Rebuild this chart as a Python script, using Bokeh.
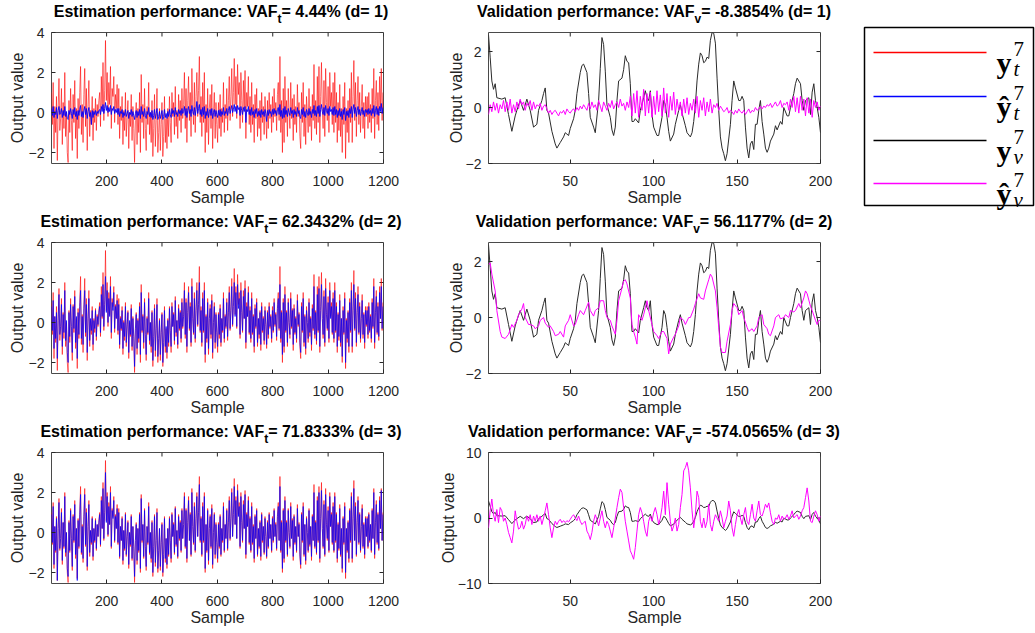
import numpy as np
from bokeh.plotting import figure
from bokeh.layouts import row, column
from bokeh.models import Range1d, FixedTicker, Label, BoxAnnotation, Div
from bokeh.embed import file_html
from bokeh.resources import INLINE

# ---------------- data ----------------
# estimation data: values read every 3rd sample
est_samples = list(range(1, 1201, 3))

y_t = [
    1.0, -0.6, 1.5, -1.8, 0.3, -1.0, 0.8, -2.4, 0.2, 1.7, -0.9, -0.3, 1.2, -1.6, 0.5, -0.8, 2.0, -1.2, 0.0, -2.0,
    -2.5, 0.6, -1.0, 1.2, -0.4, -1.9, 0.9, -0.5, 1.6, -1.3, 0.2, -2.3, 0.7, -0.8, 1.0, 2.3, -1.1, 0.4, -1.5, 0.9,
    2.2, -0.7, 1.2, -1.9, 0.3, 1.6, -1.2, 0.1, -0.6, 0.8, -1.4, 0.2, -0.5, 0.7, -0.9, 0.4, -0.2, 0.6, 1.0, -0.7,
    1.8, 0.2, 2.5, -0.4, 1.1, 3.6, 0.6, 2.0, -0.2, 1.5, 0.4, 2.3, -0.8, 1.2, 0.8, 1.8, -0.5, 0.9, 0.2, 1.4,
    -0.6, 1.2, -1.3, 0.3, -0.4, 0.8, -1.6, 0.1, -0.9, 1.0, -1.2, -0.2, 0.6, -1.8, 0.0, -0.7, 0.9, -1.4, 0.3, -0.8,
    -2.5, -0.4, 0.5, -1.6, 0.2, -1.0, 1.0, -2.0, 1.9, -0.5, 0.4, -1.3, 1.2, -0.8, -1.9, 0.3, -0.6, 1.5, -1.1, 0.0,
    -1.5, 0.6, -2.2, -0.8, 0.9, -1.7, -0.4, 1.2, -2.0, -1.0, 0.2, -1.9, -0.6, 0.5, -2.2, -1.2, 0.8, -1.5, -0.3, -1.8,
    0.2, -1.2, 0.8, -0.5, -1.5, 1.0, -0.2, 0.5, -1.1, 1.3, -0.7, 0.1, -1.3, 0.9, -0.4, 0.6, -1.0, 1.2, -0.3, 0.4,
    2.0, -0.8, 1.2, -1.5, 0.6, 1.8, -0.4, 1.0, -1.2, 2.2, 0.3, -0.6, 1.5, -1.0, 0.8, 2.0, -0.2, 1.1, 2.8, -0.5,
    0.8, -1.2, 1.5, -0.5, 2.0, -2.0, 0.4, -1.0, 1.2, -1.6, 0.2, 0.9, -0.8, 1.4, -1.8, 0.0, 1.0, -1.3, 0.5, -0.6,
    -1.5, 0.5, -0.8, 0.9, -1.2, 0.2, -0.5, 1.5, -1.0, 0.4, -0.3, 1.2, -0.9, 0.6, 1.8, -0.4, 0.8, 2.2, -0.2, 1.0,
    2.7, 0.4, 1.8, -0.3, 2.4, 0.9, 1.5, -0.8, 2.0, 0.6, -0.5, 1.6, 0.2, 2.1, -1.3, 1.0, 0.3, 1.8, -0.6, 0.8,
    -1.0, 1.5, -0.6, 0.4, -1.5, 0.9, -0.3, 1.2, -1.2, 0.2, -0.8, 0.6, -1.4, 1.0, -0.5, 0.3, -1.1, 0.8, -0.2, -1.3,
    0.6, -0.8, 1.0, -0.3, 0.4, -1.0, 0.8, -0.5, 1.2, -0.2, 0.5, -0.9, 0.9, 1.5, -0.4, 2.8, -1.0, 0.6, -2.0, 1.2,
    -1.5, 1.8, -0.5, 0.6, -1.2, 1.2, 0.0, -0.8, 1.5, -0.3, 0.7, -1.4, 0.9, -0.6, 0.3, -1.0, 1.4, -0.2, 0.5, -1.2,
    -1.8, 1.0, -0.5, 1.5, -1.2, 0.4, -1.6, 0.8, 0.0, -1.0, 1.2, -0.7, 0.3, -1.4, 0.9, -0.4, 2.4, -0.8, 0.6, -1.1,
    1.8, -0.5, 2.3, -1.5, 0.8, 2.5, 0.2, -0.8, 1.6, -1.2, 2.2, 0.5, -0.4, 1.3, -1.0, 2.0, 0.3, 1.0, -0.6, 1.5,
    -1.0, 2.0, -0.5, 1.0, -1.5, 0.5, -0.9, 1.4, -1.2, 0.2, -2.0, 0.8, -0.6, 1.5, -2.3, 0.2, -1.0, 0.6, -1.5, 1.2,
    -0.5, 2.0, -1.5, 0.8, 2.6, -0.4, 1.5, -1.2, 0.6, 1.8, -0.6, 1.0, -1.0, 0.3, 1.4, -0.8, 0.5, -1.3, 0.8, -0.2,
    0.8, -0.8, 1.0, -0.5, 0.4, -1.0, 1.2, -0.3, 2.2, -1.3, 0.6, 1.6, -0.6, 1.0, -0.9, 1.8, 0.2, 2.2, -0.4, 1.0,
]

yhat_t_d1 = [
    0.2, -0.15, 0.3, -0.25, 0.05, -0.1, 0.25, -0.3, 0.1, 0.3, -0.1, 0.0, 0.2, -0.25, 0.1, -0.15, 0.3, -0.2, 0.05, -0.3,
    -0.35, 0.1, -0.1, 0.2, -0.05, -0.3, 0.15, -0.1, 0.25, -0.2, 0.05, -0.35, 0.1, -0.15, 0.15, 0.35, -0.2, 0.05, -0.25, 0.1,
    0.3, -0.1, 0.2, -0.3, 0.05, 0.25, -0.2, 0.0, -0.6, 0.1, -0.25, 0.05, -0.1, 0.1, -0.15, 0.05, -0.05, 0.1, 0.15, -0.1,
    0.3, 0.05, 0.4, -0.05, 0.2, 0.5, 0.1, 0.35, 0.0, 0.25, 0.05, 0.35, -0.1, 0.2, 0.1, 0.3, -0.05, 0.15, 0.0, 0.2,
    -0.1, 0.2, -0.2, 0.05, -0.05, 0.15, -0.25, 0.0, -0.15, 0.15, -0.2, -0.05, 0.1, -0.3, 0.0, -0.1, 0.15, -0.2, 0.05, -0.15,
    -0.35, -0.05, 0.1, -0.25, 0.05, -0.15, 0.15, -0.3, 0.3, -0.1, 0.05, -0.2, 0.2, -0.15, -0.3, 0.05, -0.1, 0.25, -0.2, 0.0,
    -0.25, 0.1, -0.35, -0.15, 0.15, -0.3, -0.05, 0.2, -0.35, -0.2, 0.05, -0.3, -0.1, 0.1, -0.35, -0.2, 0.15, -0.25, -0.05, -0.3,
    0.05, -0.2, 0.15, -0.1, -0.25, 0.2, -0.05, 0.1, -0.2, 0.25, -0.1, 0.0, -0.2, 0.15, -0.05, 0.1, -0.15, 0.2, -0.05, 0.05,
    0.3, -0.15, 0.2, -0.25, 0.1, 0.3, -0.05, 0.15, -0.2, 0.35, 0.05, -0.1, 0.25, -0.15, 0.15, 0.55, -0.05, 0.2, 0.4, -0.1,
    0.15, -0.2, 0.25, -0.1, 0.3, -0.3, 0.05, -0.15, 0.2, -0.25, 0.05, 0.15, -0.15, 0.2, -0.3, 0.0, 0.15, -0.2, 0.1, -0.1,
    -0.25, 0.1, -0.15, 0.15, -0.2, 0.05, -0.1, 0.25, -0.15, 0.05, -0.05, 0.2, -0.15, 0.1, 0.3, -0.05, 0.15, 0.35, 0.0, 0.15,
    0.4, 0.05, 0.3, -0.05, 0.35, 0.15, 0.25, -0.15, 0.3, 0.1, -0.1, 0.25, 0.05, 0.3, -0.5, 0.15, 0.05, 0.3, -0.1, 0.15,
    -0.15, 0.25, -0.1, 0.05, -0.25, 0.15, -0.05, 0.2, -0.2, 0.05, -0.15, 0.1, -0.25, 0.15, -0.1, 0.05, -0.2, 0.15, -0.05, -0.45,
    0.1, -0.15, 0.15, -0.05, 0.05, -0.2, 0.15, -0.1, 0.2, -0.05, 0.1, -0.15, 0.15, 0.25, -0.1, 0.4, -0.2, 0.1, -0.3, 0.2,
    -0.25, 0.3, -0.1, 0.1, -0.2, 0.2, 0.0, -0.15, 0.25, -0.05, 0.1, -0.25, 0.15, -0.1, 0.05, -0.2, 0.25, -0.05, 0.1, -0.2,
    -0.3, 0.15, -0.1, 0.25, -0.2, 0.05, -0.25, 0.15, 0.0, -0.15, 0.2, -0.1, 0.05, -0.25, 0.15, -0.05, 0.35, -0.15, 0.1, -0.2,
    0.3, -0.05, 0.35, -0.2, 0.15, 0.4, 0.05, -0.1, 0.25, -0.15, 0.35, 0.1, -0.05, 0.2, -0.15, 0.3, 0.05, 0.15, -0.1, 0.25,
    -0.15, 0.3, -0.1, 0.15, -0.25, 0.1, -0.15, 0.2, -0.2, 0.05, -0.35, 0.15, -0.1, 0.25, -0.4, 0.05, -0.15, 0.1, -0.25, 0.2,
    -0.05, 0.3, -0.25, 0.15, 0.4, -0.05, 0.25, -0.2, 0.1, 0.3, -0.1, 0.15, -0.15, 0.05, 0.25, -0.1, 0.1, -0.2, 0.15, 0.0,
    0.15, -0.1, 0.2, -0.05, 0.1, -0.15, 0.2, -0.05, 0.35, -0.2, 0.1, 0.3, -0.1, 0.2, -0.15, 0.3, 0.05, 0.45, -0.05, 0.25,
]

yhat_t_d2 = [
    0.8, -0.4, 1.1, -1.3, 0.3, -0.8, 0.5, -1.8, 0.1, 1.4, -0.6, -0.2, 0.9, -1.2, 0.4, -0.5, 1.6, -0.9, 0.1, -1.5,
    -2.0, 0.5, -0.7, 0.9, -0.2, -1.5, 0.8, -0.3, 1.3, -1.0, 0.3, -1.8, 0.5, -0.6, 0.8, 1.6, -0.8, 0.3, -1.1, 0.7,
    1.6, -0.5, 0.9, -1.5, 0.2, 1.2, -0.9, 0.2, -0.4, 0.6, -1.1, 0.1, -0.3, 0.6, -0.7, 0.3, -0.1, 0.5, 0.8, -0.5,
    1.4, 0.3, 1.9, -0.2, 0.9, 2.3, 0.5, 1.6, 0.0, 1.2, 0.3, 1.8, -0.5, 1.0, 0.6, 1.5, -0.3, 0.8, 0.2, 1.1,
    -0.4, 0.9, -1.1, 0.2, -0.3, 0.6, -1.3, 0.0, -0.7, 0.8, -1.0, -0.1, 0.5, -1.5, 0.1, -0.6, 0.7, -1.2, 0.2, -0.7,
    -2.2, -0.3, 0.4, -1.3, 0.1, -0.8, 0.8, -1.6, 1.5, -0.4, 0.3, -1.0, 1.0, -0.6, -1.6, 0.2, -0.5, 1.2, -0.9, 0.0,
    -1.2, 0.5, -1.9, -0.7, 0.7, -1.4, -0.3, 0.9, -1.7, -0.8, 0.1, -1.6, -0.5, 0.4, -2.0, -1.0, 0.6, -1.2, -0.2, -1.5,
    0.1, -1.0, 0.7, -0.4, -1.2, 0.8, -0.2, 0.4, -0.9, 1.1, -0.5, 0.1, -1.1, 0.7, -0.3, 0.5, -0.8, 1.0, -0.2, 0.3,
    1.6, -0.6, 1.0, -1.2, 0.5, 1.5, -0.3, 0.8, -1.0, 1.8, 0.2, -0.5, 1.2, -0.8, 0.6, 1.6, -0.1, 0.9, 2.0, -0.4,
    0.6, -1.0, 1.2, -0.4, 1.6, -1.6, 0.3, -0.8, 1.0, -1.3, 0.2, 0.7, -0.6, 1.1, -1.5, 0.0, 0.8, -1.0, 0.4, -0.5,
    -1.2, 0.4, -0.6, 0.7, -1.0, 0.2, -0.4, 1.2, -0.8, 0.3, -0.2, 1.0, -0.7, 0.5, 1.5, -0.3, 0.6, 1.8, -0.1, 0.8,
    2.0, 0.3, 1.5, -0.2, 1.9, 0.7, 1.2, -0.6, 1.6, 0.5, -0.4, 1.3, 0.2, 1.7, -1.0, 0.8, 0.3, 1.5, -0.5, 0.6,
    -0.8, 1.2, -0.5, 0.3, -1.2, 0.7, -0.2, 1.0, -1.0, 0.2, -0.6, 0.5, -1.1, 0.8, -0.4, 0.2, -0.9, 0.6, -0.1, -1.1,
    0.5, -0.6, 0.8, -0.2, 0.3, -0.8, 0.6, -0.4, 1.0, -0.1, 0.4, -0.7, 0.7, 1.2, -0.3, 1.9, -0.8, 0.5, -1.6, 1.0,
    -1.2, 1.4, -0.4, 0.5, -1.0, 1.0, 0.0, -0.6, 1.2, -0.2, 0.6, -1.1, 0.7, -0.5, 0.2, -0.8, 1.1, -0.1, 0.4, -1.0,
    -1.5, 0.8, -0.4, 1.2, -1.0, 0.3, -1.3, 0.6, 0.0, -0.8, 1.0, -0.5, 0.2, -1.1, 0.7, -0.3, 1.8, -0.6, 0.5, -0.9,
    1.4, -0.4, 1.7, -1.2, 0.6, 1.9, 0.2, -0.6, 1.3, -1.0, 1.7, 0.4, -0.3, 1.0, -0.8, 1.6, 0.2, 0.8, -0.5, 1.2,
    -0.8, 1.6, -0.4, 0.8, -1.2, 0.4, -0.7, 1.1, -1.0, 0.2, -1.7, 0.6, -0.5, 1.2, -2.0, 0.1, -0.8, 0.5, -1.2, 1.0,
    -0.4, 1.6, -1.2, 0.6, 1.9, -0.3, 1.2, -1.0, 0.5, 1.4, -0.5, 0.8, -0.8, 0.2, 1.1, -0.6, 0.4, -1.0, 0.6, -0.1,
    0.6, -0.6, 0.8, -0.4, 0.3, -0.8, 1.0, -0.2, 1.8, -1.0, 0.5, 1.3, -0.5, 0.8, -0.7, 1.5, 0.2, 1.8, -0.3, 0.8,
]

yhat_t_d3 = [
    0.9, -0.5, 1.3, -1.6, 0.3, -0.9, 0.7, -2.4, 0.2, 1.5, -0.8, -0.3, 1.0, -1.4, 0.5, -0.7, 1.8, -1.0, 0.0, -1.8,
    -2.2, 0.5, -0.9, 1.1, -0.3, -1.7, 0.8, -0.4, 1.4, -1.1, 0.2, -2.4, 0.6, -0.7, 0.9, 1.9, -1.0, 0.3, -1.3, 0.8,
    1.9, -0.6, 1.0, -1.7, 0.3, 1.4, -1.0, 0.1, -0.5, 0.7, -1.2, 0.2, -0.4, 0.6, -0.8, 0.4, -0.2, 0.5, 0.9, -0.6,
    1.6, 0.2, 2.2, -0.3, 1.0, 3.0, 0.5, 1.8, -0.1, 1.3, 0.4, 2.0, -0.7, 1.1, 0.7, 1.6, -0.4, 0.8, 0.2, 1.2,
    -0.5, 1.0, -1.2, 0.3, -0.4, 0.7, -1.4, 0.1, -0.8, 0.9, -1.1, -0.2, 0.5, -1.6, 0.0, -0.6, 0.8, -1.3, 0.3, -0.7,
    -2.2, -0.4, 0.4, -1.4, 0.2, -0.9, 0.9, -1.8, 1.7, -0.4, 0.4, -1.2, 1.1, -0.7, -1.7, 0.3, -0.5, 1.3, -1.0, 0.0,
    -1.3, 0.5, -2.0, -0.7, 0.8, -1.5, -0.4, 1.0, -1.8, -0.9, 0.2, -1.7, -0.5, 0.4, -2.0, -1.1, 0.7, -1.3, -0.3, -1.6,
    0.2, -1.1, 0.7, -0.4, -1.3, 0.9, -0.2, 0.4, -1.0, 1.2, -0.6, 0.1, -1.2, 0.8, -0.3, 0.5, -0.9, 1.1, -0.3, 0.4,
    1.8, -0.7, 1.1, -1.3, 0.5, 1.6, -0.4, 0.9, -1.1, 2.0, 0.3, -0.5, 1.3, -0.9, 0.7, 1.8, -0.2, 1.0, 2.4, -0.4,
    0.7, -1.1, 1.3, -0.4, 1.8, -1.8, 0.4, -0.9, 1.1, -1.4, 0.2, 0.8, -0.7, 1.2, -1.6, 0.0, 0.9, -1.1, 0.4, -0.5,
    -1.3, 0.4, -0.7, 0.8, -1.1, 0.2, -0.4, 1.3, -0.9, 0.4, -0.3, 1.1, -0.8, 0.5, 1.6, -0.3, 0.7, 2.0, -0.2, 0.9,
    2.3, 0.4, 1.6, -0.3, 2.1, 0.8, 1.3, -0.7, 1.8, 0.5, -0.4, 1.4, 0.2, 1.9, -1.1, 0.9, 0.3, 1.6, -0.5, 0.7,
    -0.9, 1.3, -0.5, 0.3, -1.3, 0.8, -0.3, 1.1, -1.1, 0.2, -0.7, 0.5, -1.2, 0.9, -0.4, 0.3, -1.0, 0.7, -0.2, -1.2,
    0.5, -0.7, 0.9, -0.3, 0.4, -0.9, 0.7, -0.4, 1.1, -0.2, 0.4, -0.8, 0.8, 1.3, -0.4, 2.3, -0.9, 0.5, -1.8, 1.1,
    -1.3, 1.6, -0.4, 0.5, -1.1, 1.1, 0.0, -0.7, 1.3, -0.3, 0.6, -1.2, 0.8, -0.5, 0.3, -0.9, 1.2, -0.2, 0.4, -1.1,
    -1.6, 0.9, -0.4, 1.3, -1.1, 0.4, -1.4, 0.7, 0.0, -0.9, 1.1, -0.6, 0.3, -1.2, 0.8, -0.4, 2.0, -0.7, 0.5, -1.0,
    1.6, -0.4, 2.0, -1.3, 0.7, 2.1, 0.2, -0.7, 1.4, -1.1, 1.9, 0.4, -0.3, 1.1, -0.9, 1.8, 0.3, 0.9, -0.5, 1.3,
    -0.9, 1.8, -0.4, 0.9, -1.3, 0.4, -0.8, 1.2, -1.1, 0.2, -1.8, 0.7, -0.5, 1.3, -2.0, 0.2, -0.9, 0.5, -1.3, 1.1,
    -0.4, 1.8, -1.3, 0.7, 2.2, -0.4, 1.3, -1.1, 0.5, 1.6, -0.5, 0.9, -0.9, 0.3, 1.2, -0.7, 0.4, -1.1, 0.7, -0.2,
    0.7, -0.7, 0.9, -0.4, 0.4, -0.9, 1.1, -0.3, 2.0, -1.1, 0.5, 1.4, -0.5, 0.9, -0.8, 1.6, 0.2, 2.1, -0.4, 0.9,
]

# validation data
val_samples = list(range(1, 201))

# measured validation output (sample, value)
y_v_read = [
    (1, 2.6), (2, 1.8), (3, 0.95), (4, 0.65), (5, 0.85), (6, 0.35), (9, 0.3), (11, 0.35),
    (13, -0.25), (15, -0.85), (17, -0.3), (18, -0.1), (20, 0.25), (22, -0.1), (24, 0.3),
    (26, -0.1), (28, -0.7), (30, -0.6), (31, -0.1), (33, 0.25), (34, 0.5), (35, 0.7),
    (36, -0.1), (37, -0.2), (39, -0.85), (41, -1.3), (42, -1.45), (44, -1.25), (46, -1.05),
    (47, -0.9), (48, -0.95), (49, -1.0), (50, -0.75), (52, -0.4), (53, -0.1), (54, 0.5),
    (56, 1.25), (57, 1.5), (58, 1.55), (60, 1.25), (61, 0.5), (62, -0.35), (64, -0.7),
    (65, -0.9), (67, 0.25), (68, 1.4), (69, 2.5), (70, 2.25), (71, 1.3), (72, 0.1),
    (74, -0.35), (75, -0.8), (76, -1.0), (77, -0.7), (78, 0.25), (79, 0.95), (81, 1.05),
    (82, 1.35), (83, 1.85), (84, 1.65), (85, 1.6), (86, 0.85), (87, -0.5), (88, -0.5),
    (89, -0.4), (91, -0.55), (92, -0.1), (94, 0.35), (95, 0.6), (96, 0.35), (97, 0.25),
    (98, 0.6), (99, -0.25), (100, -0.7), (102, -1.0), (103, -1.0), (105, -0.35), (106, 0.25),
    (107, 0.1), (108, -0.35), (109, -0.85), (110, -1.2), (112, -0.95), (113, -0.6),
    (115, -0.1), (116, 0.1), (117, -0.2), (119, -0.65), (120, -0.9), (122, -1.05),
    (123, -0.9), (124, -0.5), (125, 0.1), (126, 0.95), (127, 1.55), (128, 1.95), (129, 1.85),
    (130, 1.6), (131, 1.65), (132, 1.8), (133, 1.75), (134, 2.4), (135, 2.68), (136, 2.65),
    (137, 2.3), (138, 1.05), (139, -0.1), (140, -1.05), (141, -1.45), (142, -1.65),
    (143, -1.9), (144, -1.65), (146, -0.6), (147, 0.25), (148, 0.95), (149, 0.7), (151, 0.25),
    (152, 0.25), (153, 0.4), (154, 0.25), (155, -0.7), (156, -1.45), (157, -1.8), (158, -1.3),
    (159, -1.2), (160, -1.5), (161, -0.6), (162, -0.6), (163, -0.1), (164, 0.25), (165, -0.5),
    (166, -0.95), (167, -1.45), (168, -1.6), (169, -1.45), (170, -1.2), (172, -0.95),
    (173, -0.65), (174, -0.8), (176, -0.5), (177, -0.6), (178, 0.0), (180, -0.3), (181, -0.3),
    (182, 0.0), (184, 0.5), (185, 0.85), (186, 1.05), (188, 0.85), (189, 0.25), (190, -0.1),
    (191, 0.25), (193, 0.35), (194, -0.25), (195, 0.55), (196, 0.85), (197, 0.25), (198, 0.0),
    (199, -0.35), (200, -0.9),
]

yhat_v_d1 = [
    -0.25, 0.1, -0.15, 0.2, -0.1, 0.15, -0.2, 0.1, -0.05, 0.25,
    -0.15, 0.2, -0.1, 0.3, -0.2, 0.1, -0.15, 0.2, -0.05, 0.3,
    0.1, 0.2, -0.1, 0.15, 0.05, 0.25, -0.1, 0.2, -0.05, 0.1,
    0.05, 0.15, -0.1, 0.05, 0.1, -0.05, -0.2, -0.1, -0.25, -0.15,
    -0.1, -0.2, -0.3, -0.15, -0.2, -0.1, -0.25, -0.05, -0.15, -0.2,
    -0.1, -0.05, -0.15, 0.0, -0.1, 0.05, -0.05, 0.1, 0.0, -0.1,
    0.15, -0.05, 0.2, 0.0, 0.1, -0.1, 0.25, 0.05, -0.15, 0.2,
    0.05, -0.1, 0.15, 0.0, 0.25, -0.05, 0.1, 0.2, 0.0, 0.3,
    0.05, 0.15, -0.1, 0.2, 0.0, 0.4, -0.3, 0.5, -0.2, 0.6,
    -0.35, 0.4, -0.1, 0.65, -0.3, 0.5, -0.2, 0.55, -0.35, 0.4,
    -0.25, 0.6, -0.15, 0.45, -0.3, 0.7, -0.2, 0.5, -0.35, 0.4,
    -0.1, 0.55, -0.25, 0.3, -0.1, 0.2, -0.3, 0.3, -0.2, 0.35,
    -0.25, 0.15, -0.1, 0.3, -0.2, 0.4, -0.35, 0.25, -0.1, 0.35,
    -0.3, 0.2, -0.15, 0.3, -0.2, 0.1, 0.0, 0.15, -0.1, 0.05,
    -0.05, -0.15, -0.1, 0.0, -0.2, -0.1, -0.15, -0.25, -0.1, -0.2,
    -0.05, -0.15, -0.2, -0.1, -0.25, -0.15, -0.05, -0.2, -0.1, -0.15,
    0.0, -0.1, -0.05, 0.05, -0.05, 0.05, 0.0, 0.1, 0.05, 0.15,
    0.0, 0.1, 0.2, 0.05, 0.1, 0.25, 0.0, 0.15, 0.1, 0.2,
    -0.1, 0.3, 0.0, 0.4, -0.15, 0.35, -0.2, 0.4, -0.1, 0.3,
    -0.3, 0.35, -0.2, 0.3, -0.35, 0.25, 0.0, 0.2, -0.1, 0.05,
]

# measured d=2 validation prediction (sample, value)
yhat_v_d2_read = [
    (1, 1.9), (2, 1.95), (3, 1.55), (5, 0.95), (6, 0.25), (8, -0.5), (9, -0.7), (11, -0.75),
    (13, -0.6), (15, -0.25), (16, -0.35), (18, -0.1), (19, 0.1), (21, 0.3), (22, 0.5),
    (23, 0.0), (25, -0.25), (26, -0.25), (28, -0.3), (29, -0.4), (31, -0.3), (32, -0.1),
    (34, 0.0), (35, -0.2), (37, -0.35), (38, -0.3), (40, -0.5), (41, -0.65), (43, -0.6),
    (44, -0.5), (46, -0.7), (47, -0.3), (49, -0.1), (50, 0.1), (52, -0.3), (53, -0.25),
    (55, 0.1), (56, 0.25), (58, 0.1), (59, 0.25), (61, 0.55), (62, 0.25), (64, 0.05),
    (65, 0.25), (67, 0.35), (68, 0.6), (70, 0.6), (71, 0.25), (72, 0.0), (74, -0.1),
    (75, -0.3), (77, -0.6), (78, -0.1), (79, 0.6), (81, 1.05), (82, 1.3), (83, 1.35),
    (84, 1.2), (86, 0.7), (87, -0.25), (88, -0.5), (89, -0.7), (90, -0.95), (91, 0.1),
    (93, -0.1), (94, 0.1), (96, 0.6), (97, 0.25), (99, -0.25), (100, -0.5), (102, -0.65),
    (103, -0.75), (105, -0.5), (106, -0.5), (108, -0.75), (109, -1.3), (110, -0.95),
    (112, -0.7), (113, -0.6), (115, -0.3), (116, 0.0), (118, -0.1), (119, -0.25), (121, 0.0),
    (122, 0.0), (124, 0.3), (125, 0.5), (127, 0.85), (128, 0.7), (130, 0.65), (131, 0.95),
    (133, 1.35), (134, 1.55), (135, 1.45), (137, 0.95), (138, 0.35), (139, -0.35),
    (140, -1.05), (141, -1.25), (143, -1.25), (144, -0.85), (146, -0.25), (147, 0.25),
    (148, 0.5), (150, 0.35), (151, 0.1), (153, 0.25), (154, 0.0), (156, -0.35), (157, -0.5),
    (159, -0.4), (160, -0.5), (162, -0.3), (163, 0.0), (165, 0.1), (166, -0.25), (168, -0.4),
    (169, -0.6), (170, -0.65), (172, -0.3), (173, 0.0), (175, 0.1), (176, -0.05), (178, 0.0),
    (179, 0.1), (181, 0.0), (182, 0.25), (184, 0.2), (185, 0.25), (187, 0.5), (188, 0.35),
    (190, 0.7), (191, 0.95), (192, 0.85), (194, 0.4), (195, 0.25), (197, -0.1), (198, -0.25),
    (199, -0.1), (200, -0.1),
]

yhat_v_d3 = [
    -1.5, 1.1, 2.9, 0.5, -0.5, 1.3, -0.7, 1.6, 1.1, -0.5,
    0.0, -1.0, -2.2, -3.0, -3.8, -2.0, 1.1, -0.5, -1.7, -1.5,
    -0.5, -1.7, -1.0, 0.3, -0.5, 0.5, -1.0, 0.3, -0.5, 0.5,
    -0.5, 0.3, -1.0, 0.0, 1.1, 2.3, 0.5, -1.5, -3.0, -1.5,
    -0.5, -1.0, -0.5, -0.2, -0.7, -0.4, -0.7, -0.4, -0.6, -0.2,
    0.2, 0.5, 0.0, -0.4, 0.3, -0.5, -1.0, -0.7, -0.5, -2.0,
    -2.5, -3.3, -2.2, -0.5, 0.5, -0.2, -1.2, 0.0, 1.1, -0.5,
    -1.5, -0.5, -1.0, -2.0, -3.0, -1.5, 0.0, 1.6, 3.1, 4.4,
    3.9, 1.6, -0.5, -2.0, -3.5, -5.0, -5.6, -6.3, -4.5, -2.0,
    0.5, 1.6, 0.8, -0.5, -2.0, -2.8, -0.5, 0.3, -0.5, 0.8,
    1.6, 0.5, -1.0, 0.0, 1.6, 4.1, 0.5, 5.4, 2.1, -0.5,
    -2.0, -1.2, 0.0, -2.0, -1.0, 1.6, 3.6, 7.2, 7.7, 8.5,
    7.2, 4.6, 1.1, -1.5, 0.5, 4.1, 3.1, -0.5, -1.5, 0.0,
    -1.5, -0.5, 2.1, -1.0, -2.0, -0.5, 0.5, 0.0, -0.5, 1.1,
    0.0, -1.5, -0.5, 0.3, 2.6, 1.1, -1.5, -2.8, -1.0, 0.5,
    1.3, 0.0, -1.0, 0.5, 1.6, -0.5, -1.0, 0.5, 2.1, 0.0,
    -0.5, 1.1, 2.6, 0.5, 0.3, 1.1, 2.1, 1.6, 2.3, 0.8,
    -0.5, -1.0, 0.0, -0.2, 0.5, -0.5, 0.3, -0.2, 0.0, 0.5,
    -0.2, 0.3, 1.1, 0.0, 0.3, 0.5, -0.2, 0.3, 1.1, 1.6,
    3.1, 4.6, 2.6, -0.5, -0.7, 0.3, 1.1, 0.5, -0.5, 0.3,
]

est_vaf = ["4.44", "62.3432", "71.8333"]
val_vaf = ["-8.3854", "56.1177", "-574.0565"]
orders = [1, 2, 3]
est_xticks = [200, 400, 600, 800, 1000, 1200]
est_yticks = [-2, 0, 2, 4]
val_xticks = [50, 100, 150, 200]
val_yticks = [[-2, 0, 2], [-2, 0, 2], [-10, 0, 10]]
est_xlim = (1, 1200)
val_xlim = (1, 200)
est_ylim = (-2.55, 4)
val_ylims = [(-2, 2.68), (-2, 2.68), (-10, 10)]

yv_s = [a for a, b in y_v_read]
yv_y = [b for a, b in y_v_read]
yd2_s = [a for a, b in yhat_v_d2_read]
yd2_y = [b for a, b in yhat_v_d2_read]
yhat_t = [yhat_t_d1, yhat_t_d2, yhat_t_d3]

# ---------------- styling ----------------
FONT = "Liberation Sans"
TXT = "#262626"
FRAME_W, FRAME_H = 332, 131
TITLE_H = 24
TOP_B = 8
PANEL_H = [186, 186, 189]
COL_W = 430


def style_axis(ax, ticks, label, label_standoff, tick_standoff):
    ax.ticker = FixedTicker(ticks=ticks)
    ax.axis_line_color = None
    ax.major_tick_in = 4
    ax.major_tick_out = 0
    ax.major_tick_line_color = TXT
    ax.minor_tick_line_color = None
    ax.major_label_text_font = FONT
    ax.major_label_text_font_size = "14px"
    ax.major_label_text_color = TXT
    ax.major_label_standoff = tick_standoff
    ax.axis_label = label
    ax.axis_label_text_font = FONT
    ax.axis_label_text_font_size = "16px"
    ax.axis_label_text_font_style = "normal"
    ax.axis_label_text_color = TXT
    ax.axis_label_standoff = label_standoff


def make_panel(xlim, ylim, xticks, yticks, height, left_b, right_b, ylab_standoff):
    bottom_b = height - TOP_B - FRAME_H
    p = figure(width=COL_W, height=height, x_range=Range1d(*xlim), y_range=Range1d(*ylim),
               output_backend="svg", toolbar_location=None, title=None,
               min_border_left=left_b, min_border_right=right_b,
               min_border_top=TOP_B, min_border_bottom=bottom_b)
    p.grid.visible = False
    p.outline_line_color = "#4a4a4a"
    p.outline_line_width = 1
    p.background_fill_color = "white"
    p.border_fill_color = "white"
    style_axis(p.xaxis[0], xticks, "Sample", 0, 12)
    style_axis(p.yaxis[0], yticks, "Output value", ylab_standoff, 7)
    # inward tick marks on the top and right edges of the box (MATLAB "box on")
    dx = (xlim[1] - xlim[0]) / FRAME_W
    dy = (ylim[1] - ylim[0]) / FRAME_H
    p.segment(x0=xticks, x1=xticks, y0=[ylim[1]] * len(xticks),
              y1=[ylim[1] - 4 * dy] * len(xticks), line_color=TXT, line_width=1)
    p.segment(x0=[xlim[1]] * len(yticks), x1=[xlim[1] - 4 * dx] * len(yticks),
              y0=yticks, y1=yticks, line_color=TXT, line_width=1)
    return p


def make_title(frame_left, main, sub, rest, shift=0):
    center = frame_left + FRAME_W / 2 + shift
    box_w = 400
    html = (
        f'<div style="margin-left:{center - box_w / 2:.1f}px; width:{box_w}px; '
        f'text-align:center; white-space:nowrap; font-family:\'{FONT}\'; font-weight:bold; '
        f'font-size:16px; line-height:16px; padding-top:3.5px; color:#000;">'
        f'{main}<span style="font-size:12px; position:relative; top:6px;">{sub}</span>{rest}</div>'
    )
    return Div(text=html, width=COL_W, height=TITLE_H, margin=0)


left_col, right_col = [], []
for i in range(3):
    h = PANEL_H[i]
    # estimation panel
    left_col.append(make_title(51, "Estimation performance: VAF", "t",
                               f"= {est_vaf[i]}% (d= {orders[i]})", shift=4))
    pe = make_panel(est_xlim, est_ylim, est_xticks, est_yticks, h, 51, 47, 0)
    pe.line(est_samples[:len(y_t)], y_t, line_color="red", line_alpha=0.6, line_width=1)
    yh = yhat_t[i]
    pe.line(est_samples[:len(yh)], yh, line_color="blue",
            line_alpha=(0.9 if i == 0 else 0.72), line_width=1)
    left_col.append(pe)

    # validation panel
    ylim = val_ylims[i]
    right_col.append(make_title(58, "Validation performance: VAF", "v",
                                f"= {val_vaf[i]}% (d= {orders[i]})"))
    pv = make_panel(val_xlim, ylim, val_xticks, val_yticks[i], h, 58, 40, -2)
    pv.line(yv_s, yv_y, line_color="#2b2b2b", line_width=1)
    if i == 0:
        pv.line(val_samples[:len(yhat_v_d1)], yhat_v_d1, line_color="#ff00ff", line_width=1)
    elif i == 1:
        pv.line(yd2_s, yd2_y, line_color="#ff00ff", line_width=1)
    else:
        pv.line(val_samples[:len(yhat_v_d3)], yhat_v_d3, line_color="#ff00ff", line_width=1)
    right_col.append(pv)

# ---------------- legend panel ----------------
leg_colors = ["red", "blue", "black", "#ff00ff"]
leg_main = ["y", "ŷ", "y", "ŷ"]
leg_sub = ["t", "t", "v", "v"]
leg_rows_px = [52, 96, 140, 183]

lg = figure(width=175, height=633, x_range=Range1d(0, 175), y_range=Range1d(633, 0),
            output_backend="svg", toolbar_location=None, title=None,
            x_axis_type=None, y_axis_type=None, min_border=0)
lg.grid.visible = False
lg.outline_line_color = None
lg.add_layout(BoxAnnotation(left=4, right=173, top=27, bottom=205, fill_alpha=0,
                            line_color="black", line_width=1.5, line_alpha=1))
lg.segment(x0=[13] * 4, x1=[126] * 4, y0=leg_rows_px, y1=leg_rows_px,
           line_color=leg_colors, line_width=1.6)
for k in range(4):
    L = leg_rows_px[k]
    lg.add_layout(Label(x=136, y=L + 10, text=leg_main[k], text_font="Liberation Serif",
                        text_font_style="bold", text_font_size="30px", text_color="black",
                        text_baseline="alphabetic", text_align="left"))
    lg.add_layout(Label(x=153, y=L - 4, text="7", text_font="Liberation Serif",
                        text_font_size="21px", text_color="black",
                        text_baseline="alphabetic", text_align="left"))
    lg.add_layout(Label(x=153, y=L + 16, text=leg_sub[k], text_font="Liberation Serif",
                        text_font_style="italic", text_font_size="21px", text_color="black",
                        text_baseline="alphabetic", text_align="left"))

layout = row(column(*left_col), column(*right_col), lg)
open("out.html", "w").write(file_html(layout, INLINE))
